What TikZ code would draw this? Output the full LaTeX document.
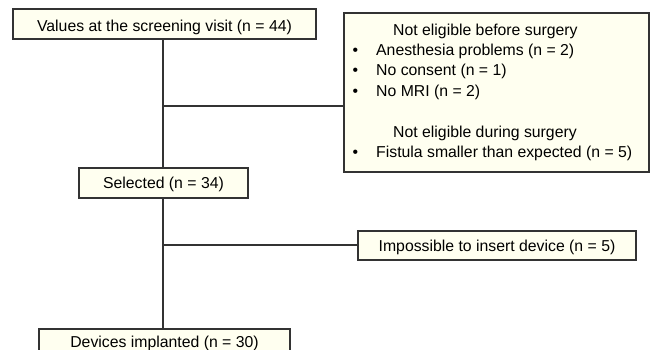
\documentclass[tikz,border=0pt]{standalone}
\usepackage{fontspec}
\setmainfont{Liberation Sans}
\definecolor{boxfill}{HTML}{FFFFF0}
\definecolor{linecol}{HTML}{333333}
\begin{document}
\begin{tikzpicture}[x=1pt,y=-1pt,
  box/.style={draw=linecol,fill=boxfill,line width=1.1pt,inner sep=0pt},
  conn/.style={draw=linecol,line width=1.1pt},
  txt/.style={font=\fontsize{15.8}{18}\selectfont,inner sep=0pt,text=black,anchor=base}]
\useasboundingbox (0,0) rectangle (652,350);
\begin{scope}
\clip (0,0) rectangle (652,350);
% boxes
\path[box] (13,9) rectangle (316,39);
\node[txt] (screen) at (164.5,31.5) {Values at the screening visit (n = 44)};
\path[box] (344,13) rectangle (649,172);
\coordinate (excl) at (344,106);
\path[box] (79,168) rectangle (248,198);
\node[txt] (sel) at (163.5,188.5) {Selected (n = 34)};
\path[box] (358,231) rectangle (636,260);
\node[txt] (imp) at (497,251) {Impossible to insert device (n = 5)};
\coordinate (impL) at (358,245);
\path[box] (39,329) rectangle (290,370);
\node[txt] (dev) at (164.5,347.5) {Devices implanted (n = 30)};
% exclusion box text
\node[txt,anchor=base west] (h1) at (393,36) {Not eligible before surgery};
\node[txt,anchor=base west] (a1) at (376,56) {Anesthesia problems (n = 2)};
\node[txt,anchor=base west] (a2) at (376,76) {No consent (n = 1)};
\node[txt,anchor=base west] (a3) at (376,96) {No MRI (n = 2)};
\node[txt,anchor=base west] (h2) at (393,137) {Not eligible during surgery};
\node[txt,anchor=base west] (b1) at (376,157) {Fistula smaller than expected (n = 5)};
\foreach \yy/\nm in {56/p1,76/p2,96/p3,157/p4}
  \node[txt] (\nm) at (355.5,\yy) {\textbullet};
% connectors
\coordinate (j1) at (163,106);
\coordinate (j2) at (163,245);
\draw[conn] (163,39) -- (163,168);
\draw[conn] (j1) -- (excl);
\draw[conn] (163,198) -- (163,329);
\draw[conn] (j2) -- (impL);
\end{scope}
\end{tikzpicture}
\end{document}
